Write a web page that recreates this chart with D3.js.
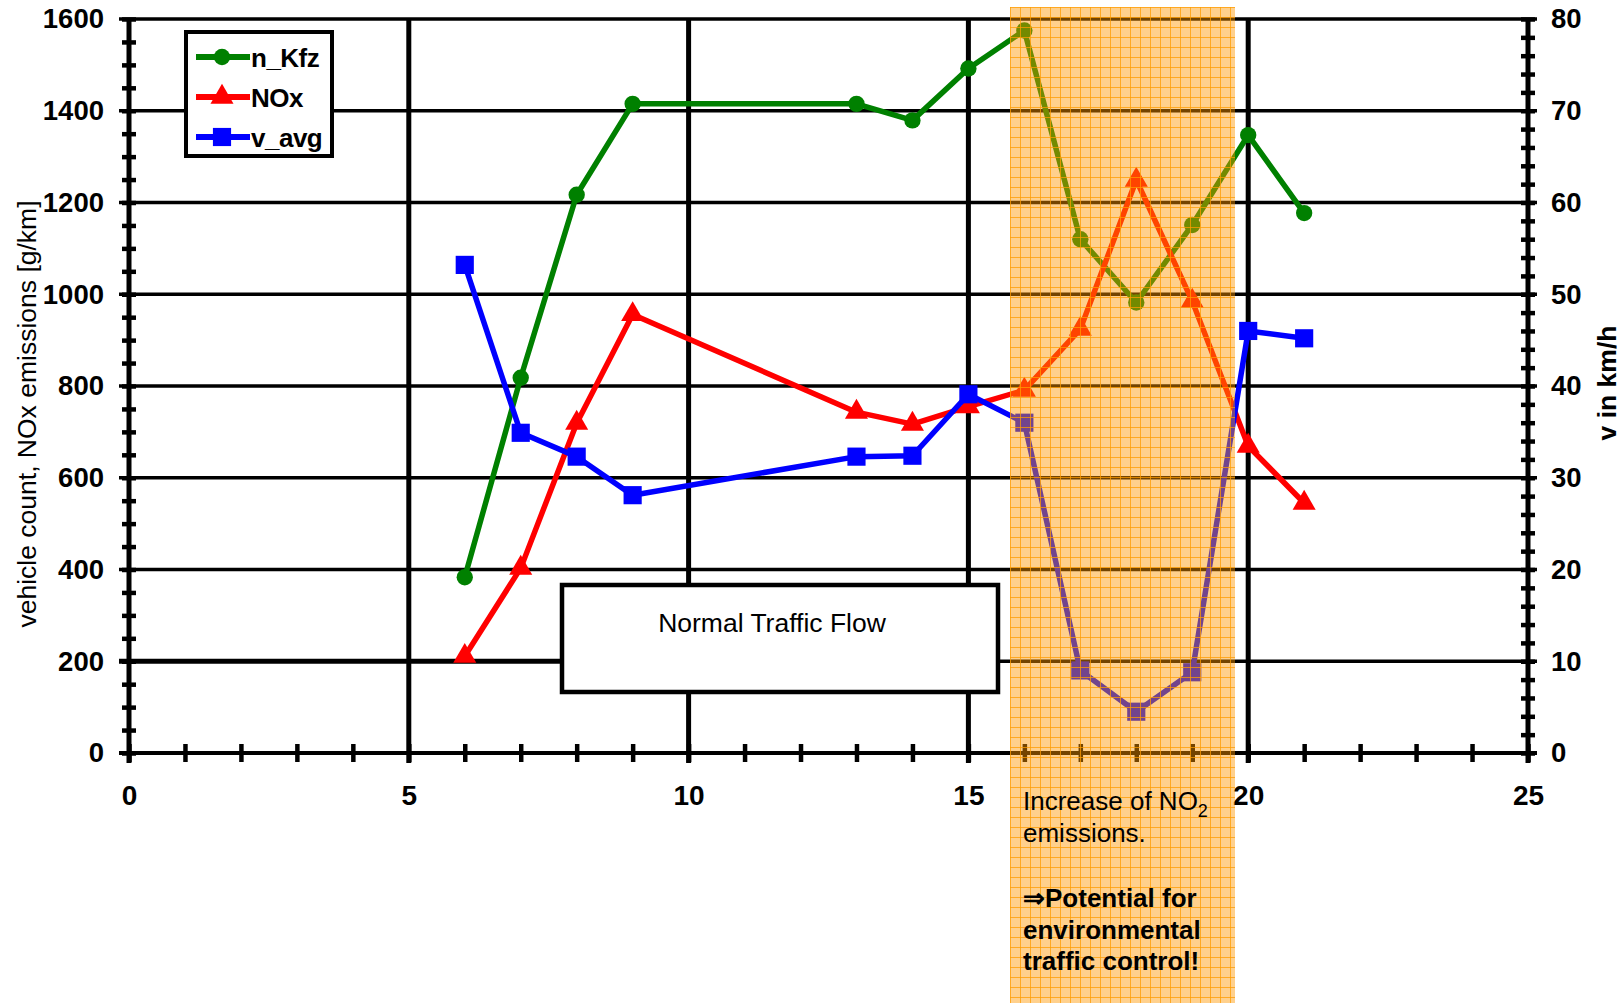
<!DOCTYPE html>
<html><head><meta charset="utf-8">
<script src="https://cdn.jsdelivr.net/npm/d3@7"></script>
<style>
body{margin:0;background:#fff;}
svg{display:block;}
.tick text{font-family:"Liberation Sans",Arial,sans-serif;font-weight:bold;fill:#000;}
</style></head>
<body><svg id="chart" width="1623" height="1003"></svg>
<script>
// ---- data ----
const hours = [6, 7, 8, 9, 13, 14, 15, 16, 17, 18, 19, 20, 21];
const nKfz  = [383, 818, 1217, 1415, 1415, 1379, 1492, 1575, 1120, 982, 1151, 1347, 1177];
const nox   = [211, 403, 719, 956, 743, 717, 755, 791, 924, 1249, 985, 669, 545];
const vAvg  = [53.2, 34.9, 32.3, 28.1, 32.3, 32.4, 39.1, 36.0, 9.0, 4.5, 8.8, 46.0, 45.2];
const seriesNames = ["n_Kfz", "NOx", "v_avg"];
const xTicks = [0, 5, 10, 15, 20, 25];
const yLeftTicks = [0, 200, 400, 600, 800, 1000, 1200, 1400, 1600];
const yRightTicks = [0, 10, 20, 30, 40, 50, 60, 70, 80];
const leftTitle = "vehicle count, NOx emissions [g/km]";
const rightTitle = "v in km/h";
const boxText = "Normal Traffic Flow";

const svg = d3.select("#chart");
const L = 129, R = 1528, T = 19, B = 753;
const x = d3.scaleLinear().domain([0, 25]).range([L, R]);
const yL = d3.scaleLinear().domain([0, 1600]).range([B, T]);
const yR = d3.scaleLinear().domain([0, 80]).range([B, T]);
const fmt = d3.format("d");

// gridlines
const grid = svg.append("g");
grid.selectAll("line.h").data(yLeftTicks.filter(d => d > 0)).join("line")
  .attr("x1", L - 10).attr("x2", R + 9)
  .attr("y1", d => yL(d)).attr("y2", d => yL(d))
  .attr("stroke", "#000").attr("stroke-width", 3.5);
grid.selectAll("line.v").data(xTicks.filter(d => d > 0 && d < 25)).join("line")
  .attr("x1", d => x(d)).attr("x2", d => x(d))
  .attr("y1", T).attr("y2", B + 10)
  .attr("stroke", "#000").attr("stroke-width", 5);

// minor ticks (crossing axes)
const fmtNone = () => "";
svg.append("g").attr("transform", `translate(${L + 7},0)`)
  .call(d3.axisLeft(yL).tickValues(d3.range(0, 1601, 50)).tickSize(14).tickFormat(fmtNone))
  .call(g => g.select(".domain").remove())
  .call(g => g.selectAll("line").attr("stroke-width", 4.5));
svg.append("g").attr("transform", `translate(${R - 7},0)`)
  .call(d3.axisRight(yR).tickValues(d3.range(0, 81, 2)).tickSize(14).tickFormat(fmtNone))
  .call(g => g.select(".domain").remove())
  .call(g => g.selectAll("line").attr("stroke-width", 4.5));
svg.append("g").attr("transform", `translate(0,${B - 9})`)
  .call(d3.axisBottom(x).tickValues(d3.range(0, 26, 1)).tickSize(18).tickFormat(fmtNone))
  .call(g => g.select(".domain").remove())
  .call(g => g.selectAll("line").attr("stroke-width", 4.5));

// axis lines
svg.append("line").attr("x1", L).attr("x2", L).attr("y1", T).attr("y2", B + 10).attr("stroke", "#000").attr("stroke-width", 5);
svg.append("line").attr("x1", R).attr("x2", R).attr("y1", T).attr("y2", B + 10).attr("stroke", "#000").attr("stroke-width", 5);
svg.append("line").attr("x1", L - 10).attr("x2", R + 9).attr("y1", B).attr("y2", B).attr("stroke", "#000").attr("stroke-width", 4);

// tick labels
svg.append("g").attr("transform", `translate(${L},0)`)
  .call(d3.axisLeft(yL).tickValues(yLeftTicks).tickSize(0).tickPadding(25).tickFormat(fmt))
  .call(g => g.select(".domain").remove())
  .call(g => g.selectAll("text").attr("font-size", 27.5));
svg.append("g").attr("transform", `translate(${R},0)`)
  .call(d3.axisRight(yR).tickValues(yRightTicks).tickSize(0).tickPadding(23).tickFormat(fmt))
  .call(g => g.select(".domain").remove())
  .call(g => g.selectAll("text").attr("font-size", 27.5));
svg.append("g").attr("transform", `translate(0,${B})`)
  .call(d3.axisBottom(x).tickValues(xTicks).tickSize(0).tickPadding(32).tickFormat(fmt))
  .call(g => g.select(".domain").remove())
  .call(g => g.selectAll("text").attr("font-size", 28));

// axis titles
svg.append("text").attr("transform", "translate(27,414) rotate(-90)")
  .attr("text-anchor", "middle").attr("dominant-baseline", "central")
  .attr("font-family", "Liberation Sans, Arial, sans-serif").attr("font-size", 26.5)
  .text(leftTitle);
svg.append("text").attr("transform", "translate(1607,383) rotate(-90)")
  .attr("text-anchor", "middle").attr("dominant-baseline", "central")
  .attr("font-family", "Liberation Sans, Arial, sans-serif").attr("font-weight", "bold").attr("font-size", 26.5)
  .text(rightTitle);

// Normal traffic flow callout
svg.append("line").attr("x1", L - 10).attr("x2", 562).attr("y1", yL(200)).attr("y2", yL(200)).attr("stroke", "#000").attr("stroke-width", 5);
svg.append("rect").attr("x", 562).attr("y", 585).attr("width", 436).attr("height", 107)
  .attr("fill", "#fff").attr("stroke", "#000").attr("stroke-width", 4.5);
svg.append("text").attr("x", 772).attr("y", 632).attr("text-anchor", "middle")
  .attr("font-family", "Liberation Sans, Arial, sans-serif").attr("font-size", 26.5)
  .text(boxText);

// series
const colors = ["#008000", "#ff0000", "#0000ff"];
const series = [
  {name: seriesNames[0], vals: nKfz, y: yL, sym: d3.symbolCircle, size: 210, color: colors[0]},
  {name: seriesNames[1], vals: nox, y: yL, sym: d3.symbolTriangle, size: 230, color: colors[1]},
  {name: seriesNames[2], vals: vAvg, y: yR, sym: d3.symbolSquare, size: 330, color: colors[2]}
];
series.forEach(s => {
  const pts = hours.map((h, i) => [x(h), s.y(s.vals[i])]);
  svg.append("path").attr("d", d3.line()(pts)).attr("fill", "none")
    .attr("stroke", s.color).attr("stroke-width", 5.5).attr("stroke-linejoin", "round");
  svg.append("g").selectAll("path").data(pts).join("path")
    .attr("transform", d => `translate(${d[0]},${d[1]})`)
    .attr("d", d3.symbol().type(s.sym).size(s.size)).attr("fill", s.color);
});

// legend
const lg = svg.append("g");
lg.append("rect").attr("x", 186).attr("y", 32).attr("width", 146).attr("height", 124)
  .attr("fill", "#fff").attr("stroke", "#000").attr("stroke-width", 4);
const legY = [57, 97, 137];
series.forEach((s, i) => {
  lg.append("line").attr("x1", 196).attr("x2", 250).attr("y1", legY[i]).attr("y2", legY[i])
    .attr("stroke", s.color).attr("stroke-width", 6);
  lg.append("path").attr("transform", `translate(222,${legY[i]})`)
    .attr("d", d3.symbol().type(s.sym).size(s.size)).attr("fill", s.color);
  lg.append("text").attr("x", 251).attr("y", legY[i] + 9.5)
    .attr("font-family", "Liberation Sans, Arial, sans-serif").attr("font-weight", "bold")
    .attr("font-size", 26).attr("letter-spacing", -0.5).text(s.name);
});

// highlight overlay
const defs = svg.append("defs");
const pat = defs.append("pattern").attr("id", "gridpat").attr("patternUnits", "userSpaceOnUse")
  .attr("x", 1010).attr("y", 7).attr("width", 10).attr("height", 10);
pat.append("rect").attr("x", 0).attr("y", 0).attr("width", 1).attr("height", 10).attr("fill", "#ff9c00").attr("opacity", 0.75);
pat.append("rect").attr("x", 0).attr("y", 0).attr("width", 10).attr("height", 1).attr("fill", "#ff9c00").attr("opacity", 0.75);
const ov = svg.append("g");
ov.append("rect").attr("x", 1010).attr("y", 7).attr("width", 225).attr("height", 996)
  .attr("fill", "rgb(255,150,0)").attr("opacity", 0.45);
ov.append("rect").attr("x", 1010).attr("y", 7).attr("width", 225).attr("height", 996)
  .attr("fill", "url(#gridpat)");

const tf = "Liberation Sans, Arial, sans-serif";
const t1 = ov.append("text").attr("x", 1023).attr("y", 810).attr("font-family", tf).attr("font-size", 26);
t1.append("tspan").text("Increase of NO");
t1.append("tspan").attr("font-size", 18).attr("dy", 7).text("2");
ov.append("text").attr("x", 1023).attr("y", 842).attr("font-family", tf).attr("font-size", 26).text("emissions.");
const boldLines = ["\u21D2Potential for", "environmental", "traffic control!"];
ov.selectAll("text.b").data(boldLines).join("text")
  .attr("x", 1023).attr("y", (d, i) => 907 + i * 31.5)
  .attr("font-family", tf).attr("font-weight", "bold").attr("font-size", 26).text(d => d);
</script></body></html>
